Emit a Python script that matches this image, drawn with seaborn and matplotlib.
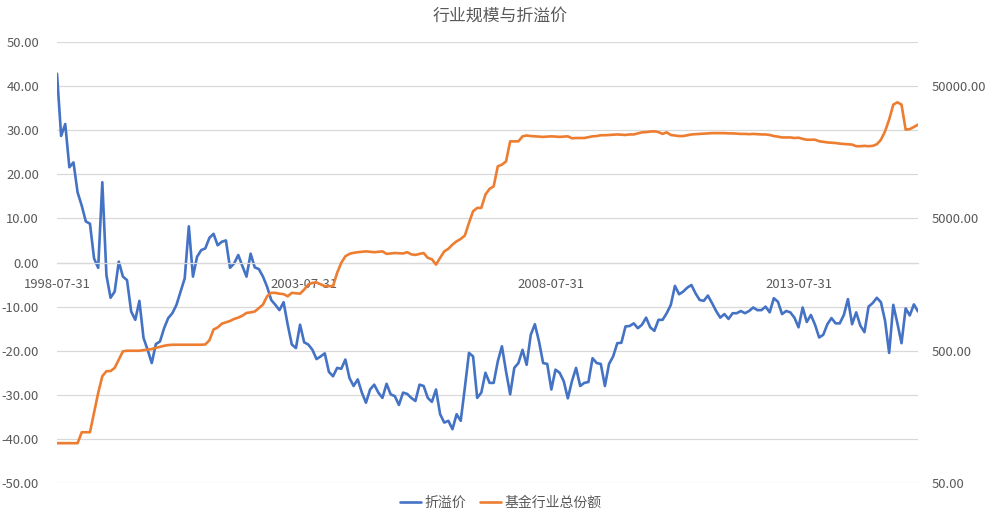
import numpy as np
import pandas as pd
import matplotlib
matplotlib.use("Agg")
import matplotlib.pyplot as plt
import matplotlib.ticker as mticker
import seaborn as sns

sns.set_style("white")
plt.rcParams['font.family'] = ['Noto Sans CJK SC', 'DejaVu Sans']
plt.rcParams['axes.unicode_minus'] = False

# monthly series, 1998-07 .. 2015-12
dates = pd.date_range("1998-07-31", periods=210, freq="ME").strftime("%Y-%m-%d").tolist()

premium = [
    42.8, 28.7, 31.4, 21.6, 22.7, 15.9, 12.9, 9.3, 8.8, 0.9,
    -1.2, 18.2, -2.9, -8.0, -6.6, 0.2, -3.2, -4.0, -11.1, -13.0,
    -8.7, -17.1, -19.8, -22.8, -18.5, -17.9, -14.9, -12.6, -11.5, -9.6,
    -6.6, -3.6, 8.2, -3.2, 1.3, 2.8, 3.2, 5.6, 6.5, 3.9,
    4.7, 5.0, -1.2, -0.2, 1.7, -0.8, -3.2, 2.0, -1.1, -1.5,
    -3.2, -5.5, -8.5, -9.6, -10.8, -9.0, -14.1, -18.6, -19.4, -14.1,
    -18.1, -18.6, -19.8, -21.9, -21.3, -20.6, -24.8, -25.8, -23.9, -24.1,
    -22.0, -26.2, -28.0, -26.5, -29.5, -31.8, -28.8, -27.7, -29.5, -30.7,
    -27.5, -29.9, -30.3, -32.3, -29.5, -29.8, -30.7, -31.4, -27.7, -28.0,
    -30.7, -31.6, -28.8, -34.4, -36.3, -35.9, -37.8, -34.4, -35.9, -28.4,
    -20.5, -21.3, -30.7, -29.5, -25.0, -27.3, -27.3, -22.4, -19.0, -24.7,
    -29.9, -23.9, -22.8, -19.8, -23.2, -16.4, -14.0, -17.9, -22.8, -23.0,
    -28.8, -24.3, -25.0, -26.9, -30.8, -26.9, -23.9, -28.0, -27.3, -27.1,
    -21.7, -22.8, -23.0, -28.0, -23.0, -21.3, -18.3, -18.2, -14.5, -14.4,
    -13.8, -14.9, -14.1, -12.5, -14.7, -15.5, -13.0, -13.0, -11.5, -9.6,
    -5.3, -7.2, -6.6, -5.7, -5.1, -7.0, -8.5, -8.7, -7.5, -9.2,
    -11.0, -12.5, -11.7, -12.8, -11.5, -11.5, -11.0, -11.5, -11.0, -10.2,
    -10.8, -10.8, -10.0, -11.3, -8.1, -8.9, -11.7, -11.0, -11.3, -12.5,
    -14.7, -10.2, -13.5, -11.9, -14.1, -17.0, -16.4, -14.0, -12.6, -13.8,
    -13.8, -11.9, -8.3, -14.0, -11.3, -14.3, -15.8, -10.0, -9.2, -8.0,
    -9.0, -13.2, -20.5, -9.6, -13.8, -18.3, -10.4, -12.0, -9.5, -11.1,
]

total_shares = [
    100, 100, 100, 100, 100, 100, 121, 121, 121, 170,
    240, 321, 350, 351, 371, 429, 495, 500, 500, 500,
    500, 505, 510, 515, 526, 535, 545, 552, 555, 555,
    555, 555, 555, 555, 555, 555, 558, 600, 724, 750,
    800, 820, 840, 870, 890, 920, 966, 975, 990, 1050,
    1118, 1291, 1370, 1370, 1350, 1340, 1290, 1370, 1360, 1350,
    1450, 1585, 1630, 1640, 1590, 1540, 1540, 1540, 1940, 2310,
    2590, 2700, 2750, 2780, 2800, 2820, 2800, 2780, 2800, 2820,
    2700, 2720, 2740, 2730, 2720, 2780, 2680, 2650, 2700, 2740,
    2520, 2460, 2240, 2520, 2820, 2950, 3175, 3360, 3500, 3715,
    4630, 5670, 6010, 6010, 7580, 8380, 8750, 12400, 12770, 13500,
    19150, 19150, 19150, 20900, 21200, 21000, 20900, 20800, 20700, 20800,
    20900, 20800, 20700, 20800, 20900, 20200, 20300, 20300, 20300, 20600,
    20900, 21000, 21300, 21300, 21400, 21500, 21600, 21500, 21400, 21600,
    21600, 22000, 22400, 22500, 22700, 22800, 22500, 21800, 22400, 21400,
    21200, 21000, 21000, 21300, 21600, 21700, 21800, 21900, 22000, 22100,
    22100, 22100, 22100, 22000, 22000, 21900, 21800, 21800, 21700, 21800,
    21700, 21600, 21600, 21400, 21000, 20800, 20500, 20500, 20500, 20300,
    20400, 20000, 19700, 19700, 19700, 19200, 19000, 18800, 18700, 18600,
    18400, 18300, 18200, 18100, 17600, 17600, 17700, 17600, 17700, 18200,
    19700, 22800, 28000, 36300, 37800, 36300, 23500, 23700, 24600, 25600,
]

df = pd.DataFrame({"date": dates, "premium": premium, "shares": total_shares})
df["idx"] = np.arange(len(df))

BLUE = "#4472C4"
ORANGE = "#ED7D31"
GREY_TXT = "#595959"
GRID = "#D9D9D9"

fig = plt.figure(figsize=(10, 5.23), dpi=100)
ax = fig.add_axes([0.057, 1 - 483 / 523, 0.918 - 0.057, (483 - 42) / 523])
ax2 = ax.twinx()

sns.lineplot(data=df, x="idx", y="premium", ax=ax, color=BLUE, lw=1.9, legend=False)
sns.lineplot(data=df, x="idx", y="shares", ax=ax2, color=ORANGE, lw=1.9, legend=False)

# left axis
ax.set_xlim(0, len(df) - 1)
ax.set_ylim(-50, 50)
ax.set_yticks(np.arange(-50, 51, 10))
ax.yaxis.set_major_formatter(mticker.FuncFormatter(lambda v, p: f"{v:.2f}"))
ax.grid(axis="y", color=GRID, lw=0.9)
ax.set_axisbelow(True)
for s in ["top", "right", "left"]:
    ax.spines[s].set_visible(False)
ax.spines["bottom"].set_position(("data", 0))
ax.spines["bottom"].set_color(GRID)
ax.spines["bottom"].set_linewidth(0.9)

tick_pos = df["idx"][::60].tolist()
ax.set_xticks(tick_pos)
ax.set_xticklabels(df["date"][::60].tolist())
ax.tick_params(axis="x", length=3, color=GRID, labelcolor=GREY_TXT, labelsize=9.4, pad=8)
ax.tick_params(axis="y", length=0, labelcolor=GREY_TXT, labelsize=9.4, pad=13)
ax.set_xlabel("")
ax.set_ylabel("")

# right axis (log)
ax2.set_yscale("log")
ax2.set_ylim(50, 108000)
ax2.set_yticks([50, 500, 5000, 50000])
ax2.yaxis.set_major_formatter(mticker.FuncFormatter(lambda v, p: f"{v:.2f}"))
ax2.yaxis.set_minor_locator(mticker.NullLocator())
ax2.tick_params(axis="y", length=0, labelcolor=GREY_TXT, labelsize=9.4, pad=10)
ax2.set_ylabel("")
for s in ax2.spines.values():
    s.set_visible(False)

fig.text(0.5, 1 - 16 / 523, "行业规模与折溢价", ha="center", va="center",
         fontsize=12.2, color=GREY_TXT)

handles = [ax.get_lines()[0], ax2.get_lines()[0]]
fig.legend(handles, ["折溢价", "基金行业总份额"], loc="center",
           bbox_to_anchor=(0.501, 1 - 503 / 523), ncol=2, frameon=False,
           fontsize=10, labelcolor=GREY_TXT, handlelength=1.5,
           handletextpad=0.25, columnspacing=1.0)

fig.savefig("out.png", dpi=100)
